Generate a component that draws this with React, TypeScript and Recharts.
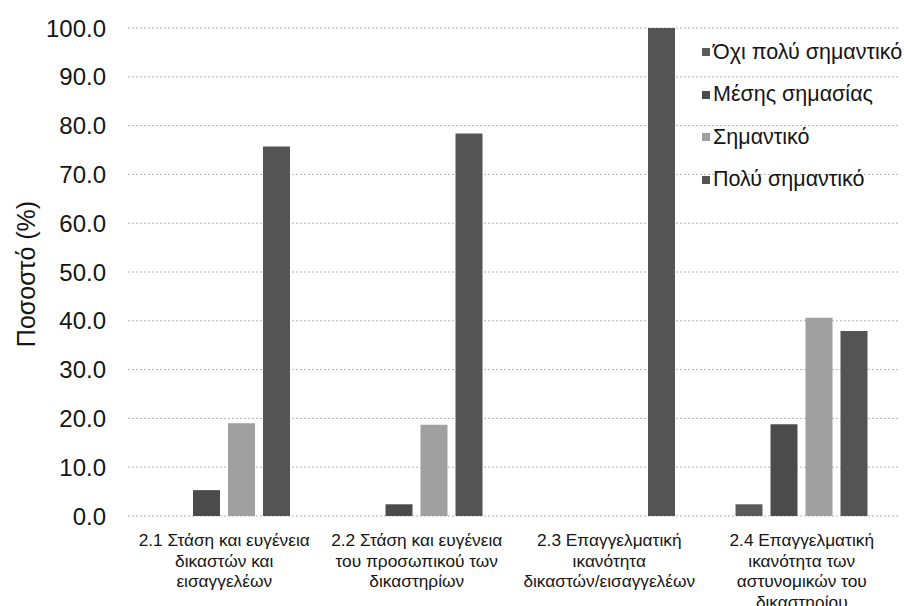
import React from 'react';
import { BarChart, Bar, XAxis, YAxis, CartesianGrid, Legend } from 'recharts';

// Survey categories (short keys) and their wrapped axis captions
const categories = ['2.1', '2.2', '2.3', '2.4'];
const categoryLines: string[][] = [
  ['2.1 Στάση και ευγένεια', 'δικαστών και', 'εισαγγελέων'],
  ['2.2 Στάση και ευγένεια', 'του προσωπικού των', 'δικαστηρίων'],
  ['2.3 Επαγγελματική', 'ικανότητα', 'δικαστών/εισαγγελέων'],
  ['2.4 Επαγγελματική', 'ικανότητα των', 'αστυνομικών του', 'δικαστηρίου'],
];

// Percentage of answers per importance level
const notVeryImportant = [0, 0, 0, 2.4];
const mediumImportance = [5.3, 2.4, 0, 18.8];
const important = [19.0, 18.7, 0, 40.6];
const veryImportant = [75.7, 78.4, 100, 37.9];

const yTicks = [0, 10, 20, 30, 40, 50, 60, 70, 80, 90, 100];

const series = [
  { key: 'notVery', name: 'Όχι πολύ σημαντικό', values: notVeryImportant, color: '#5a5a5a' },
  { key: 'medium', name: 'Μέσης σημασίας', values: mediumImportance, color: '#4b4b4b' },
  { key: 'important', name: 'Σημαντικό', values: important, color: '#a0a0a0' },
  { key: 'very', name: 'Πολύ σημαντικό', values: veryImportant, color: '#545454' },
];

const data = categories.map((c, i) => {
  const row: Record<string, string | number> = { category: c };
  series.forEach((s) => {
    row[s.key] = s.values[i];
  });
  return row;
});

const FONT = '"Liberation Sans", Arial, sans-serif';

const CategoryTick = (props: any) => {
  const { x, y, index } = props;
  const lines = categoryLines[index] || [];
  return (
    <text x={x} y={y} textAnchor="middle" fontFamily={FONT} fontSize={17.3} fill="#151515">
      {lines.map((line, i) => (
        <tspan key={i} x={x} y={y + 30 + i * 20.5}>
          {line}
        </tspan>
      ))}
    </text>
  );
};

const LegendList = () => (
  <div style={{ fontFamily: FONT, fontSize: 21.5, color: '#151515' }}>
    {series.map((s) => (
      <div key={s.key} style={{ display: 'flex', alignItems: 'center', height: 42.5, whiteSpace: 'nowrap' }}>
        <span style={{ display: 'inline-block', width: 8, height: 8, background: s.color, marginRight: 3, flex: 'none' }} />
        <span>{s.name}</span>
      </div>
    ))}
  </div>
);

const AxisTitle = (props: any) => {
  const { viewBox } = props;
  const cx = viewBox.x + 35;
  const cy = viewBox.y + viewBox.height / 2 + 2;
  return (
    <text
      x={cx}
      y={cy}
      transform={`rotate(-90, ${cx}, ${cy})`}
      textAnchor="middle"
      fontFamily={FONT}
      fontSize={25}
      fill="#151515"
    >
      Ποσοστό (%)
    </text>
  );
};

export default function App() {
  return (
    <div style={{ position: 'absolute', left: 0, top: 0, width: 904, height: 606, background: '#fff' }}>
      <BarChart
        width={904}
        height={606}
        data={data}
        margin={{ top: 28, right: 6, left: 0, bottom: 0 }}
        barSize={27}
        barGap={8}
      >
        <CartesianGrid vertical={false} stroke="#b4b4b4" strokeDasharray="2 2" />
        <XAxis
          dataKey="category"
          height={90}
          axisLine={false}
          tickLine={false}
          tickSize={0}
          tickMargin={0}
          interval={0}
          tick={<CategoryTick />}
        />
        <YAxis
          width={128}
          domain={[0, 100]}
          ticks={yTicks}
          interval={0}
          axisLine={false}
          tickLine={false}
          tickSize={0}
          tickMargin={22}
          tickFormatter={(v: number) => v.toFixed(1)}
          tick={{ fontFamily: FONT, fontSize: 24, fill: '#151515' }}
          label={<AxisTitle />}
        />
        <Legend
          layout="horizontal"
          align="center"
          verticalAlign="middle"
          content={<LegendList />}
          wrapperStyle={{ position: 'absolute', left: 702, top: 31, width: 202 }}
        />
        {series.map((s) => (
          <Bar key={s.key} dataKey={s.key} name={s.name} fill={s.color} isAnimationActive={false} />
        ))}
      </BarChart>
    </div>
  );
}
